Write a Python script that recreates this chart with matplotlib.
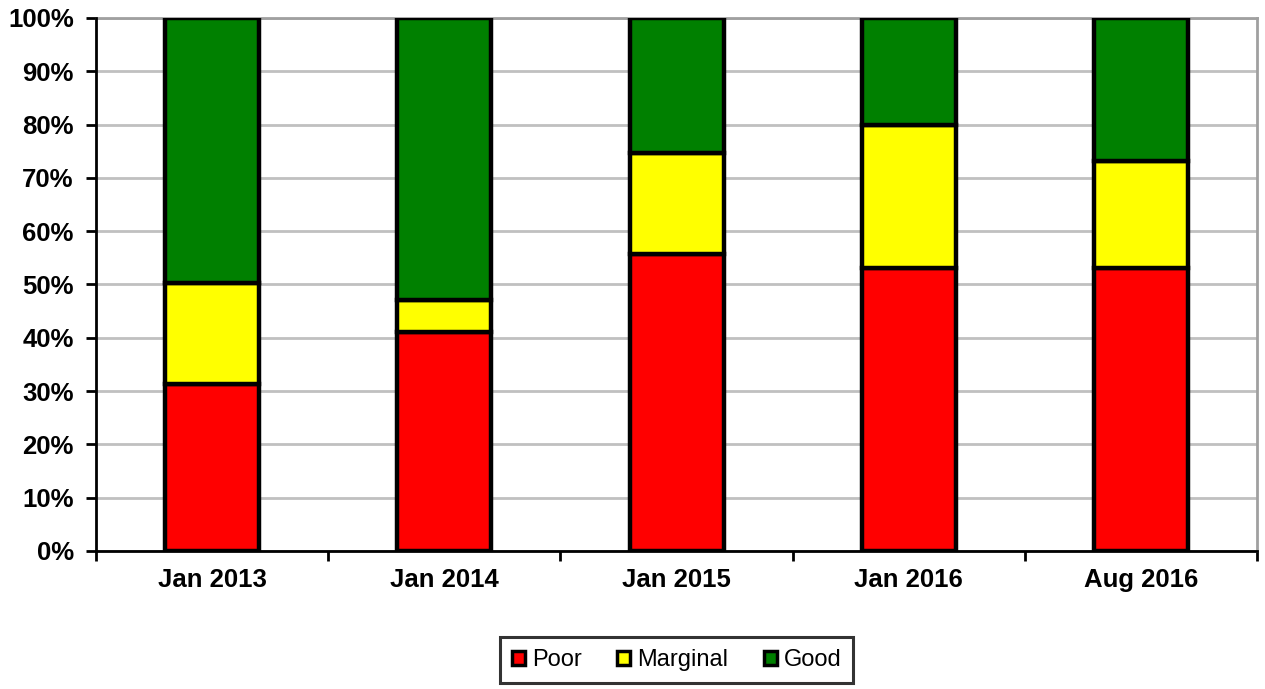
import matplotlib.pyplot as plt
from matplotlib.patches import Patch
from matplotlib.ticker import PercentFormatter
import numpy as np

plt.rcParams['font.family'] = ['Liberation Sans', 'DejaVu Sans']

categories = ["Jan 2013", "Jan 2014", "Jan 2015", "Jan 2016", "Aug 2016"]
poor = [31.3, 41.1, 55.8, 53.0, 53.0]
marginal = [18.9, 6.0, 18.9, 27.0, 20.2]
good = [49.8, 52.9, 25.3, 20.0, 26.8]

series = [("Poor", poor, "#ff0000"), ("Marginal", marginal, "#ffff00"), ("Good", good, "#008000")]

fig = plt.figure(figsize=(12.65, 6.89), dpi=100)
ax = fig.add_axes([0.0759, 0.2003, 0.9178, 0.7736])

x = np.arange(len(categories))
bottom = np.zeros(len(categories))
for name, vals, col in series:
    ax.bar(x, vals, bottom=bottom, width=0.405, color=col, edgecolor="black", linewidth=3.2, zorder=3)
    bottom += np.array(vals)

ax.set_xlim(-0.5, len(categories) - 0.5)
ax.set_ylim(0, 100)
ax.set_yticks(np.arange(0, 101, 10))
ax.yaxis.set_major_formatter(PercentFormatter(decimals=0))
ax.yaxis.grid(True, color="#c0c0c0", linewidth=2, zorder=0)

# category labels centred, ticks at the boundaries
ax.set_xticks(x)
ax.set_xticklabels(categories, fontsize=18.5, fontweight="bold")
ax.tick_params(axis="x", length=0, pad=12)
ax.set_xticks(np.arange(-0.5, len(categories), 1), minor=True)
ax.tick_params(axis="x", which="minor", length=7, width=2, direction="out")
ax.tick_params(axis="y", length=7, width=2, direction="out", labelsize=18.5, pad=9)
for lbl in ax.get_yticklabels():
    lbl.set_fontweight("bold")

ax.spines["left"].set_linewidth(2)
ax.spines["bottom"].set_linewidth(2)
ax.spines["left"].set_zorder(4)
ax.spines["bottom"].set_zorder(4)
ax.spines["top"].set_color("#a0a0a0")
ax.spines["right"].set_color("#a0a0a0")
ax.spines["top"].set_linewidth(2)
ax.spines["right"].set_linewidth(2)

handles = [Patch(facecolor=col, edgecolor="black", linewidth=2.5, label=name) for name, vals, col in series]
leg = fig.legend(handles=handles, loc="center", bbox_to_anchor=(0.535, 0.042), ncol=3,
                 fontsize=17, frameon=True, fancybox=False, handlelength=0.55, handleheight=0.55,
                 handletextpad=0.3, columnspacing=1.5, borderpad=0.5, borderaxespad=0)
leg.get_frame().set_edgecolor("black")
leg.get_frame().set_linewidth(2.2)

fig.savefig("out.png", dpi=100)
